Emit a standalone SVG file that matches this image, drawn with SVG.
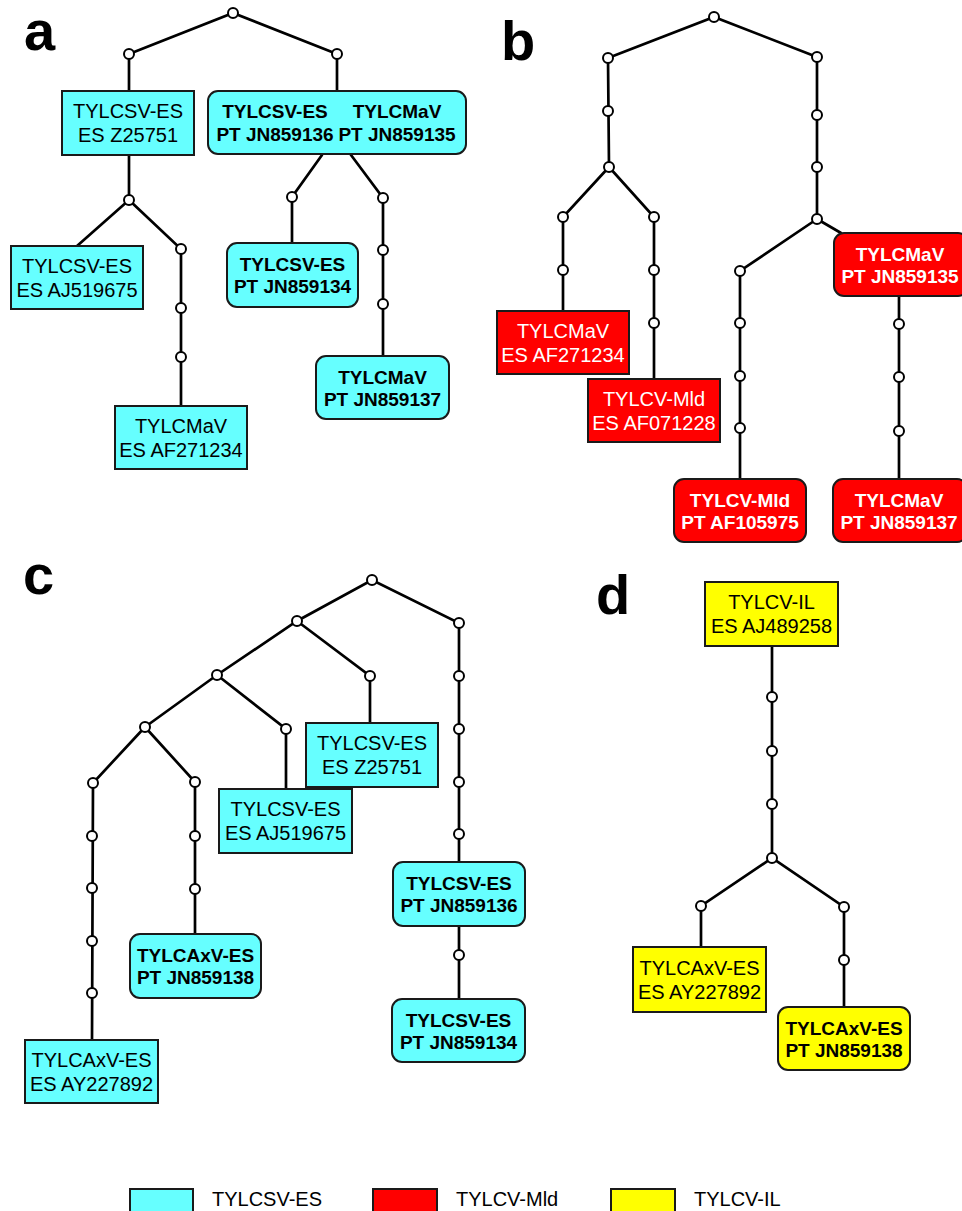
<svg xmlns="http://www.w3.org/2000/svg" width="962" height="1211" viewBox="0 0 962 1211">
<style>
.e{stroke:#000;stroke-width:2.7;fill:none;stroke-linecap:round}
.n{fill:#fff;stroke:#000;stroke-width:2}
.cy{fill:#66ffff;stroke:#1a1a1a;stroke-width:2}
.rd{fill:#ff0000;stroke:#1a1a1a;stroke-width:2}
.yl{fill:#ffff00;stroke:#1a1a1a;stroke-width:2}
.t{font-family:"Liberation Sans",Arial,sans-serif;font-size:20px;text-anchor:middle;fill:#000}
.b{font-family:"Liberation Sans",Arial,sans-serif;font-size:19px;font-weight:bold;text-anchor:middle;fill:#000}
.w{fill:#fff}
.lab{font-family:"Liberation Sans",Arial,sans-serif;font-size:56px;font-weight:bold;fill:#000}
.lg{font-family:"Liberation Sans",Arial,sans-serif;font-size:20px;fill:#000}
</style>
<rect width="962" height="1211" fill="#fff"/>
<g id="connectors">
<polyline class="e" points="129,54 233,13 337,54"/>
<line class="e" x1="129" y1="54" x2="129" y2="91"/>
<line class="e" x1="337" y1="54" x2="337" y2="91"/>
<line class="e" x1="129" y1="155" x2="129" y2="200"/>
<line class="e" x1="129" y1="200" x2="77" y2="246"/>
<polyline class="e" points="129,200 181,249 181,406"/>
<polyline class="e" points="322,155 292,197 292,243"/>
<polyline class="e" points="351,155 383,198 383,356"/>
<polyline class="e" points="608,58 714,17 817,57"/>
<polyline class="e" points="608,58 609,167"/>
<polyline class="e" points="609,167 563,217 563,311"/>
<polyline class="e" points="609,167 654,217 654,379"/>
<polyline class="e" points="817,57 817,219"/>
<polyline class="e" points="817,219 740,271 740,479"/>
<line class="e" x1="817" y1="219" x2="841" y2="233"/>
<line class="e" x1="899" y1="296" x2="899" y2="479"/>
<polyline class="e" points="145,727 217,675 297,621 372,580 459,623 459,862"/>
<line class="e" x1="459" y1="926" x2="459" y2="999"/>
<polyline class="e" points="297,621 370,676 370,723"/>
<polyline class="e" points="217,675 286,729 286,789"/>
<polyline class="e" points="145,727 93,783 92,1040"/>
<polyline class="e" points="145,727 195,782 195,934"/>
<line class="e" x1="772" y1="646" x2="772" y2="858"/>
<polyline class="e" points="701,947 701,906 772,858 844,907 844,1007"/>
</g>
<g id="junctions">
<circle class="n" cx="233" cy="13" r="5"/><circle class="n" cx="129" cy="54" r="5"/><circle class="n" cx="337" cy="54" r="5"/>
<circle class="n" cx="129" cy="200" r="5"/><circle class="n" cx="181" cy="249" r="5"/><circle class="n" cx="181" cy="308" r="5"/><circle class="n" cx="181" cy="357" r="5"/>
<circle class="n" cx="292" cy="197" r="5"/><circle class="n" cx="383" cy="198" r="5"/><circle class="n" cx="383" cy="250" r="5"/><circle class="n" cx="383" cy="304" r="5"/>
<circle class="n" cx="714" cy="17" r="5"/><circle class="n" cx="608" cy="58" r="5"/><circle class="n" cx="817" cy="57" r="5"/>
<circle class="n" cx="608" cy="111" r="5"/><circle class="n" cx="609" cy="167" r="5"/><circle class="n" cx="563" cy="217" r="5"/><circle class="n" cx="654" cy="217" r="5"/>
<circle class="n" cx="563" cy="270" r="5"/><circle class="n" cx="654" cy="270" r="5"/><circle class="n" cx="654" cy="323" r="5"/>
<circle class="n" cx="817" cy="115" r="5"/><circle class="n" cx="817" cy="167" r="5"/><circle class="n" cx="817" cy="219" r="5"/>
<circle class="n" cx="740" cy="271" r="5"/><circle class="n" cx="740" cy="323" r="5"/><circle class="n" cx="740" cy="376" r="5"/><circle class="n" cx="740" cy="428" r="5"/>
<circle class="n" cx="899" cy="324" r="5"/><circle class="n" cx="899" cy="377" r="5"/><circle class="n" cx="899" cy="431" r="5"/>
<circle class="n" cx="372" cy="580" r="5"/><circle class="n" cx="297" cy="621" r="5"/><circle class="n" cx="459" cy="623" r="5"/>
<circle class="n" cx="217" cy="675" r="5"/><circle class="n" cx="370" cy="676" r="5"/><circle class="n" cx="145" cy="727" r="5"/><circle class="n" cx="286" cy="729" r="5"/>
<circle class="n" cx="93" cy="783" r="5"/><circle class="n" cx="195" cy="782" r="5"/>
<circle class="n" cx="92" cy="836" r="5"/><circle class="n" cx="92" cy="888" r="5"/><circle class="n" cx="92" cy="941" r="5"/><circle class="n" cx="92" cy="993" r="5"/>
<circle class="n" cx="195" cy="836" r="5"/><circle class="n" cx="195" cy="889" r="5"/>
<circle class="n" cx="459" cy="676" r="5"/><circle class="n" cx="459" cy="729" r="5"/><circle class="n" cx="459" cy="782" r="5"/><circle class="n" cx="459" cy="834" r="5"/><circle class="n" cx="459" cy="955" r="5"/>
<circle class="n" cx="772" cy="697" r="5"/><circle class="n" cx="772" cy="751" r="5"/><circle class="n" cx="772" cy="804" r="5"/><circle class="n" cx="772" cy="858" r="5"/>
<circle class="n" cx="701" cy="906" r="5"/><circle class="n" cx="844" cy="907" r="5"/><circle class="n" cx="844" cy="960" r="5"/>
</g>
<g id="panel-labels">
<text class="lab" x="24" y="50">a</text>
<text class="lab" x="501" y="60">b</text>
<text class="lab" x="23" y="594">c</text>
<text class="lab" x="596" y="614">d</text>
</g>
<g id="a-Z25751"><rect class="cy" x="62" y="91" width="132" height="64"/><text class="t" x="128" y="118">TYLCSV-ES</text><text class="t" x="128" y="142">ES Z25751</text></g>
<g id="a-JN859136-JN859135"><rect class="cy" x="208" y="91" width="258" height="63" rx="10"/><text class="b" x="275" y="118">TYLCSV-ES</text><text class="b" x="275" y="141">PT JN859136</text><text class="b" x="397" y="118">TYLCMaV</text><text class="b" x="397" y="141">PT JN859135</text></g>
<g id="a-AJ519675"><rect class="cy" x="11" y="246" width="132" height="63"/><text class="t" x="77" y="273">TYLCSV-ES</text><text class="t" x="77" y="297">ES AJ519675</text></g>
<g id="a-AF271234"><rect class="cy" x="115" y="406" width="132" height="63"/><text class="t" x="181" y="433">TYLCMaV</text><text class="t" x="181" y="457">ES AF271234</text></g>
<g id="a-JN859134"><rect class="cy" x="227" y="243" width="131" height="64" rx="10"/><text class="b" x="292.5" y="271">TYLCSV-ES</text><text class="b" x="292.5" y="293">PT JN859134</text></g>
<g id="a-JN859137"><rect class="cy" x="316" y="356" width="133" height="63" rx="10"/><text class="b" x="382.5" y="384">TYLCMaV</text><text class="b" x="382.5" y="406">PT JN859137</text></g>
<g id="b-AF271234"><rect class="rd" x="497" y="311" width="132" height="63"/><text class="t w" x="563" y="338">TYLCMaV</text><text class="t w" x="563" y="362">ES AF271234</text></g>
<g id="b-AF071228"><rect class="rd" x="588" y="379" width="132" height="63"/><text class="t w" x="654" y="406">TYLCV-Mld</text><text class="t w" x="654" y="430">ES AF071228</text></g>
<g id="b-JN859135"><rect class="rd" x="834" y="233" width="134" height="63" rx="10"/><text class="b w" x="900" y="261">TYLCMaV</text><text class="b w" x="900" y="283">PT JN859135</text></g>
<g id="b-AF105975"><rect class="rd" x="674" y="479" width="132" height="63" rx="10"/><text class="b w" x="740" y="507">TYLCV-Mld</text><text class="b w" x="740" y="529">PT AF105975</text></g>
<g id="b-JN859137"><rect class="rd" x="833" y="479" width="134" height="63" rx="10"/><text class="b w" x="899" y="507">TYLCMaV</text><text class="b w" x="899" y="529">PT JN859137</text></g>
<g id="c-Z25751"><rect class="cy" x="306" y="723" width="132" height="64"/><text class="t" x="372" y="750">TYLCSV-ES</text><text class="t" x="372" y="774">ES Z25751</text></g>
<g id="c-AJ519675"><rect class="cy" x="219" y="789" width="133" height="64"/><text class="t" x="285.5" y="816">TYLCSV-ES</text><text class="t" x="285.5" y="840">ES AJ519675</text></g>
<g id="c-AY227892"><rect class="cy" x="25" y="1040" width="133" height="63"/><text class="t" x="91.5" y="1067">TYLCAxV-ES</text><text class="t" x="91.5" y="1091">ES AY227892</text></g>
<g id="c-JN859138"><rect class="cy" x="130" y="934" width="131" height="64" rx="10"/><text class="b" x="195.5" y="962">TYLCAxV-ES</text><text class="b" x="195.5" y="984">PT JN859138</text></g>
<g id="c-JN859136"><rect class="cy" x="393" y="862" width="132" height="64" rx="10"/><text class="b" x="459" y="890">TYLCSV-ES</text><text class="b" x="459" y="912">PT JN859136</text></g>
<g id="c-JN859134"><rect class="cy" x="392" y="999" width="133" height="63" rx="10"/><text class="b" x="458.5" y="1027">TYLCSV-ES</text><text class="b" x="458.5" y="1049">PT JN859134</text></g>
<g id="d-AJ489258"><rect class="yl" x="705" y="582" width="133" height="64"/><text class="t" x="771.5" y="609">TYLCV-IL</text><text class="t" x="771.5" y="633">ES AJ489258</text></g>
<g id="d-AY227892"><rect class="yl" x="633" y="947" width="133" height="65"/><text class="t" x="699.5" y="975">TYLCAxV-ES</text><text class="t" x="699.5" y="999">ES AY227892</text></g>
<g id="d-JN859138"><rect class="yl" x="778" y="1007" width="132" height="63" rx="10"/><text class="b" x="844" y="1035">TYLCAxV-ES</text><text class="b" x="844" y="1057">PT JN859138</text></g>
<g id="legend">
<rect class="cy" x="130" y="1189" width="63" height="32" stroke-width="1.5"/>
<text class="lg" x="212" y="1206">TYLCSV-ES</text>
<rect class="rd" x="373" y="1189" width="64" height="32" stroke-width="1.5"/>
<text class="lg" x="456" y="1206">TYLCV-Mld</text>
<rect class="yl" x="611" y="1189" width="64" height="32" stroke-width="1.5"/>
<text class="lg" x="694" y="1206">TYLCV-IL</text>
</g>
</svg>
